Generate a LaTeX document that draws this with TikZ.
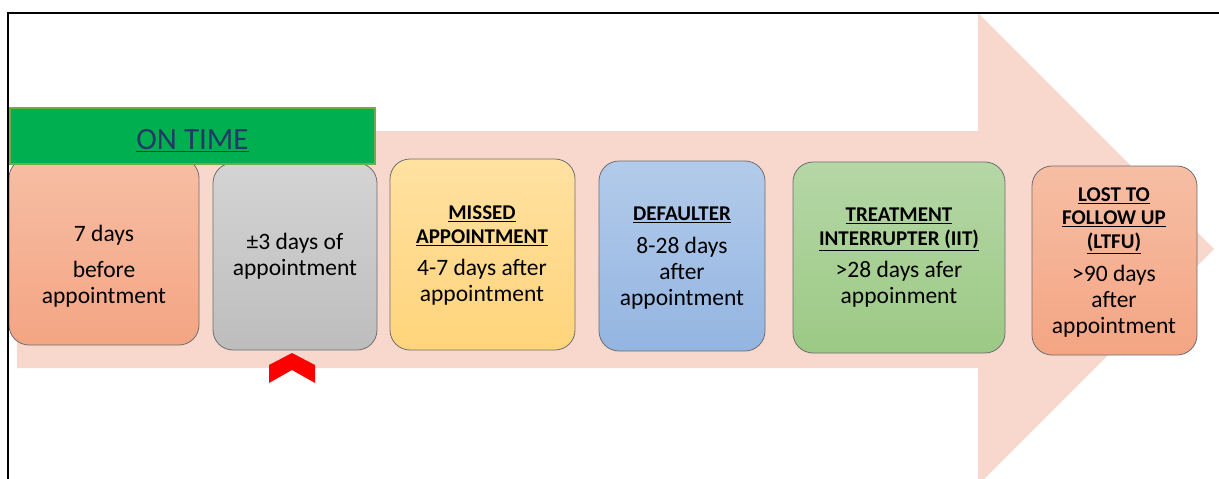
\documentclass[tikz,border=0pt]{standalone}
\usepackage{fontspec}
\setmainfont{Carlito}
\definecolor{arrowfill}{HTML}{F8D8CD}
\definecolor{ontimefill}{HTML}{00AF50}
\definecolor{ontimeedge}{HTML}{70AD47}
\definecolor{ontimetext}{HTML}{223A66}
\definecolor{boxedge}{HTML}{6E6E6E}
\definecolor{salmonA}{HTML}{F6BEA4}
\definecolor{salmonB}{HTML}{F4A583}
\definecolor{greyA}{HTML}{D4D4D4}
\definecolor{greyB}{HTML}{BDBDBD}
\definecolor{yellowA}{HTML}{FFE1A1}
\definecolor{yellowB}{HTML}{FFD47B}
\definecolor{blueA}{HTML}{B3CBEA}
\definecolor{blueB}{HTML}{93B5E1}
\definecolor{greenA}{HTML}{B5D7A6}
\definecolor{greenB}{HTML}{9CC985}
\definecolor{chevron}{HTML}{FF0000}
\newcommand{\hdline}[1]{{\fontsize{21}{24}\selectfont\bfseries\underline{#1}}}
\tikzset{
  stagebox/.style={draw=boxedge, line width=0.8pt, rounded corners=20pt,
    inner sep=0pt, shading=axis, shading angle=0},
  stagetext/.style={align=center, inner sep=0pt, text=black,
    font=\fontsize{23.5}{26}\selectfont},
}
\begin{document}
\begin{tikzpicture}[x=1pt,y=-1pt]
  \clip (0,0) rectangle (1219,479);
  \fill[white] (0,0) rectangle (1219,479);
  % the big background arrow
  \fill[arrowfill] (17,131) -- (978,131) -- (978,13) -- (1214,249)
    -- (978,485) -- (978,368) -- (17,368) -- cycle;
  % stage boxes
  \node[stagebox, top color=salmonA, bottom color=salmonB,
    minimum width=190pt, minimum height=187pt] (b1) at (104,251.5) {};
  \node[stagebox, top color=greyA, bottom color=greyB,
    minimum width=164pt, minimum height=187pt] (b2) at (295,256.5) {};
  \node[stagebox, top color=yellowA, bottom color=yellowB,
    minimum width=185pt, minimum height=191pt] (b3) at (482.5,254.5) {};
  \node[stagebox, top color=blueA, bottom color=blueB,
    minimum width=166pt, minimum height=190pt] (b4) at (682,256) {};
  \node[stagebox, top color=greenA, bottom color=greenB,
    minimum width=212pt, minimum height=191pt] (b5) at (899,257.5) {};
  \node[stagebox, top color=salmonA, bottom color=salmonB,
    minimum width=165pt, minimum height=189pt] (b6) at (1114.5,260.5) {};
  % stage texts
  \node[stagetext] (t1) at (104,266) {7 days\\[10pt]before\\appointment};
  \node[stagetext] (t2) at (295,256) {\char"00B1 3 days of\\appointment};
  \node[stagetext] (t3) at (482,256) {\hdline{MISSED}\\[-2pt]\hdline{APPOINTMENT}\\[6pt]4-7 days after\\appointment};
  \node[stagetext] (t4) at (682,258) {\hdline{DEFAULTER}\\[7pt]8-28 days\\after\\appointment};
  \node[stagetext] (t5) at (899,258) {\hdline{TREATMENT}\\[-2pt]\hdline{INTERRUPTER (IIT)}\\[6pt]>28 days afer\\appoinment};
  \node[stagetext] (t6) at (1114,263) {\hdline{LOST TO}\\[-3pt]\hdline{FOLLOW UP}\\[-2pt]\hdline{(LTFU)}\\[7pt]>90 days\\after\\appointment};
  % on-time banner and its label
  \node[draw=ontimeedge, fill=ontimefill, line width=2pt, minimum width=365pt,
    minimum height=56pt, inner sep=0pt] (ontime) at (192.5,136) {};
  \node[inner sep=0pt, text=ontimetext, font=\fontsize{31}{36}\selectfont]
    (ontimelabel) at (192.5,141) {\underline{ON TIME}};
  % red chevron under the second stage
  \fill[chevron] (269,365) -- (292,353) -- (315,365) -- (315,383)
    -- (292,370) -- (269,383) -- cycle;
  % page frame
  \draw[line width=2pt] (8,480) -- (8,12.5) -- (1220,12.5);
\end{tikzpicture}
\end{document}
